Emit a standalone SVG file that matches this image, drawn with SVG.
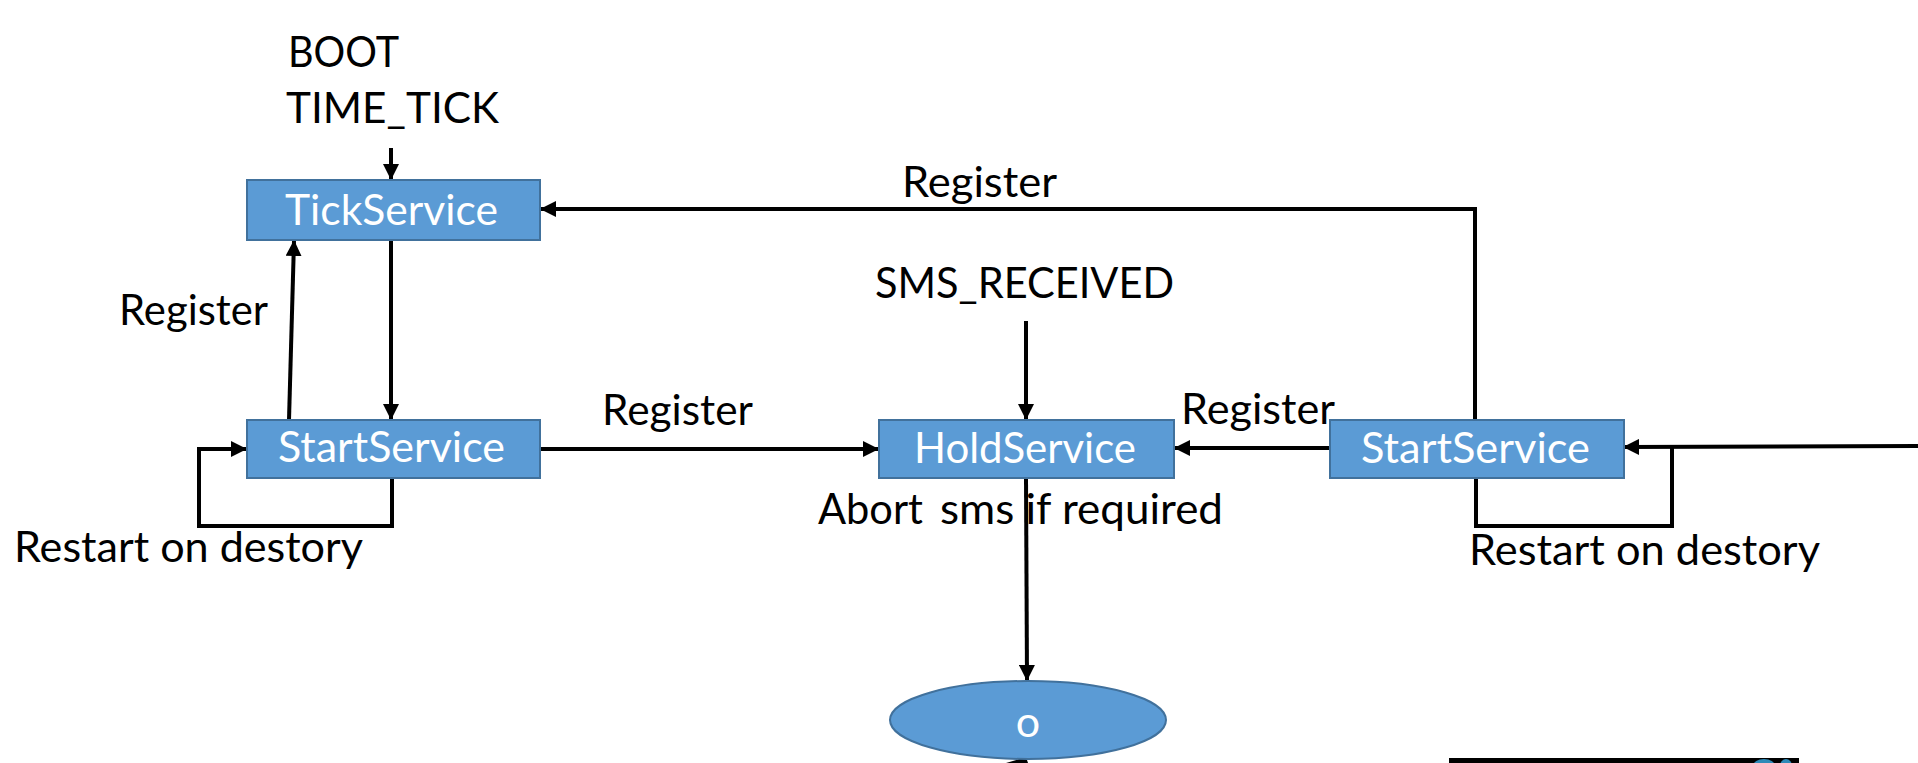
<svg xmlns="http://www.w3.org/2000/svg" width="1918" height="763" viewBox="0 0 1918 763">
<style>
.bg{fill:#ffffff}
.node{fill:#5B9BD5;stroke:#41719C;stroke-width:2}
.t{font-family:Lato,"Liberation Sans",sans-serif;font-size:43px;fill:#000000}
.w{fill:#ffffff}
.c{fill:none;stroke:#000000;stroke-width:4}
</style>
<defs>
<marker id="ah" markerUnits="userSpaceOnUse" markerWidth="16" markerHeight="16" refX="15" refY="8" orient="auto">
<path d="M0,0 L16,8 L0,16 z" fill="#000000"/>
</marker>
</defs>
<rect class="bg" x="0" y="0" width="1918" height="763"/>

<g id="connectors">
<line class="c" x1="391" y1="148" x2="391" y2="179" marker-end="url(#ah)"/>
<line class="c" x1="391" y1="241" x2="391" y2="419" marker-end="url(#ah)"/>
<line class="c" x1="289" y1="420" x2="294" y2="241" marker-end="url(#ah)"/>
<line class="c" x1="540" y1="449" x2="878" y2="449" marker-end="url(#ah)"/>
<line class="c" x1="1026" y1="321" x2="1026" y2="419" marker-end="url(#ah)"/>
<line class="c" x1="1330" y1="448" x2="1175" y2="448" marker-end="url(#ah)"/>
<polyline class="c" points="1475,420 1475,209 541,209" marker-end="url(#ah)"/>
<line class="c" x1="1026" y1="478" x2="1027" y2="680" marker-end="url(#ah)"/>
<polyline class="c" points="392,478 392,526 199,526 199,449 246,449" marker-end="url(#ah)"/>
<polyline class="c" points="1476,478 1476,526 1672,526 1672,447"/>
<line class="c" x1="1918" y1="446" x2="1624" y2="447" marker-end="url(#ah)"/>
<polygon points="1026,757 1028,763 1006,763" fill="#000000"/>
</g>

<g id="n-boot">
<text class="t" x="288" y="67" textLength="111" lengthAdjust="spacingAndGlyphs">BOOT</text>
<text class="t" x="286" y="123" textLength="213" lengthAdjust="spacingAndGlyphs">TIME_TICK</text>
</g>

<g id="n-tick">
<rect class="node" x="247" y="180" width="293" height="60"/>
<text class="t w" x="285" y="225" textLength="213" lengthAdjust="spacingAndGlyphs">TickService</text>
</g>

<g id="n-start-left">
<rect class="node" x="247" y="420" width="293" height="58"/>
<text class="t w" x="278" y="462" textLength="227" lengthAdjust="spacingAndGlyphs">StartService</text>
</g>

<g id="n-sms">
<text class="t" x="875" y="298" textLength="299" lengthAdjust="spacingAndGlyphs">SMS_RECEIVED</text>
</g>

<g id="n-hold">
<rect class="node" x="879" y="420" width="295" height="58"/>
<text class="t w" x="914" y="463" textLength="222" lengthAdjust="spacingAndGlyphs">HoldService</text>
</g>

<g id="n-start-right">
<rect class="node" x="1330" y="420" width="294" height="58"/>
<text class="t w" x="1361" y="463" textLength="229" lengthAdjust="spacingAndGlyphs">StartService</text>
</g>

<g id="n-o">
<ellipse class="node" cx="1028" cy="720" rx="138" ry="39"/>
<text class="t w" x="1028" y="737" text-anchor="middle">o</text>
</g>

<g id="labels">
<text class="t" x="902" y="197" textLength="155" lengthAdjust="spacingAndGlyphs">Register</text>
<text class="t" x="119" y="325" textLength="149" lengthAdjust="spacingAndGlyphs">Register</text>
<text class="t" x="602" y="425" textLength="151" lengthAdjust="spacingAndGlyphs">Register</text>
<text class="t" x="1181" y="424" textLength="154" lengthAdjust="spacingAndGlyphs">Register</text>
<text class="t" y="524"><tspan x="818" textLength="105" lengthAdjust="spacingAndGlyphs">Abort</tspan><tspan x="940" textLength="283" lengthAdjust="spacingAndGlyphs">sms if required</tspan></text>
<text class="t" x="14" y="562" textLength="349" lengthAdjust="spacingAndGlyphs">Restart on destory</text>
<text class="t" x="1469" y="565" textLength="351" lengthAdjust="spacingAndGlyphs">Restart on destory</text>
</g>

<g id="bottom-fragments">
<rect x="1449" y="758" width="350" height="5" fill="#000000"/>
<ellipse cx="1764" cy="766" rx="11" ry="7" fill="#2E8AB8"/>
<ellipse cx="1786" cy="766" rx="6" ry="7" fill="#2E8AB8"/>
</g>
</svg>
